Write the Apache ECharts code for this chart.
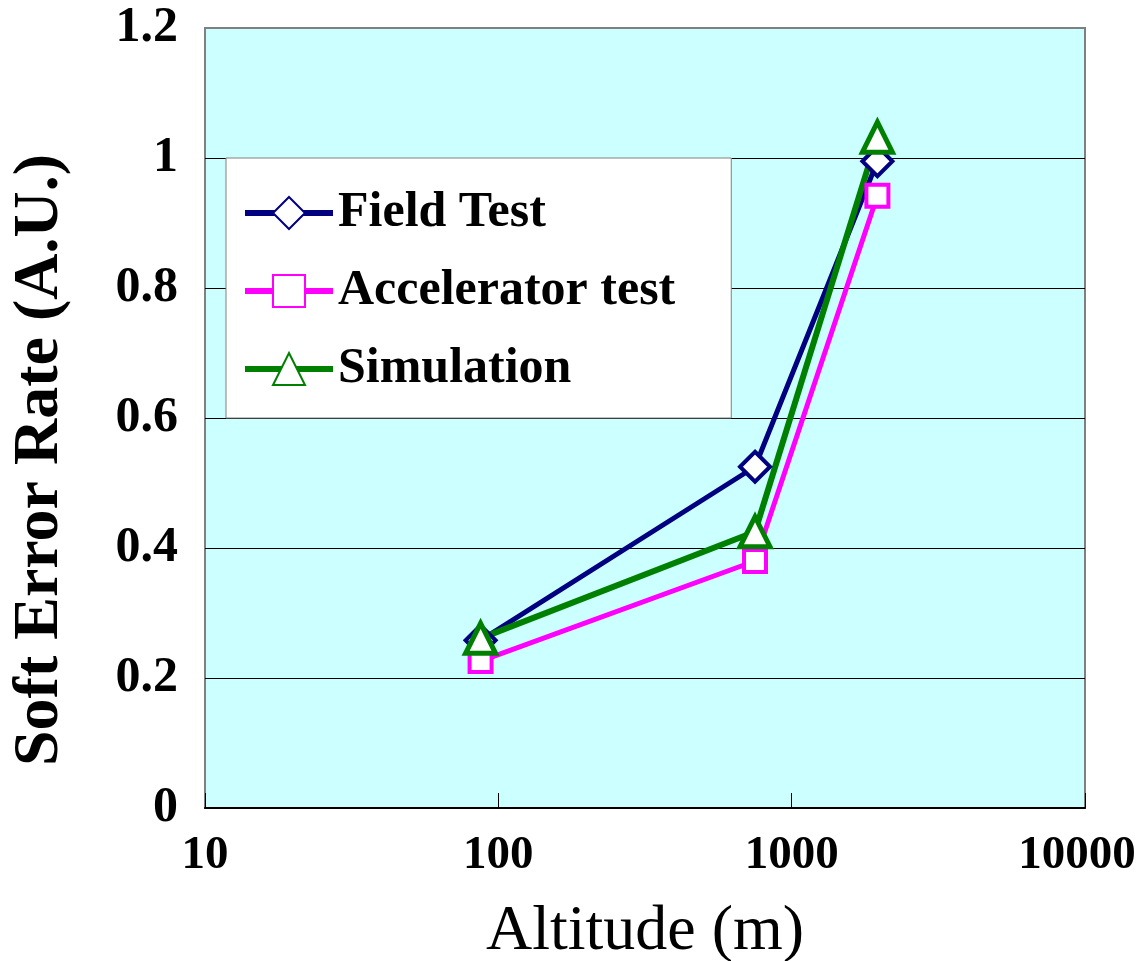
<!DOCTYPE html>
<html>
<head>
<meta charset="utf-8">
<title>Soft Error Rate vs Altitude</title>
<script src="https://cdn.jsdelivr.net/npm/echarts@6/dist/echarts.min.js"></script>
<style>
  html, body { margin: 0; padding: 0; background: #fff; }
  #chart { width: 1143px; height: 961px; }
</style>
</head>
<body>
<div id="chart"></div>
<script>
// altitude of the test sites (m)
const altitudes = [87, 750, 1960];
// soft error rate, arbitrary units
const fieldTest = [0.258, 0.525, 0.995];
const acceleratorTest = [0.226, 0.380, 0.942];
const simulation = [0.261, 0.425, 1.032];

const seriesNames = ['Field Test', 'Accelerator test', 'Simulation'];

const serif = "'Liberation Serif', 'Times New Roman', serif";

function pairs(ys) {
    return altitudes.map(function (x, i) { return [x, ys[i]]; });
}

const chart = echarts.init(document.getElementById('chart'));

const option = {
    backgroundColor: '#fff',
    animation: false,
    grid: {
        left: 205,
        right: 58,
        top: 28,
        bottom: 153,
        containLabel: false,
        outerBoundsMode: 'none',
        show: true,
        backgroundColor: '#CCFFFF',
        borderColor: '#808080',
        borderWidth: 2
    },
    legend: {
        orient: 'vertical',
        left: 226,
        top: 158,
        padding: [30, 56, 24, 16],
        itemGap: 28,
        itemWidth: 88,
        itemHeight: 40,
        backgroundColor: '#fff',
        borderColor: '#808080',
        borderWidth: 1,
        lineStyle: { width: 6 },
        textStyle: {
            fontFamily: serif,
            fontWeight: 'bold',
            fontSize: 50,
            lineHeight: 48,
            color: '#000'
        },
        data: seriesNames
    },
    xAxis: {
        type: 'log',
        logBase: 10,
        min: 10,
        max: 10000,
        name: 'Altitude (m)',
        nameLocation: 'middle',
        nameGap: 92,
        nameTextStyle: {
            fontFamily: serif,
            fontSize: 64,
            color: '#000'
        },
        axisLine: { show: true, lineStyle: { color: '#000', width: 2 } },
        axisTick: { show: true, inside: true, length: 15, lineStyle: { color: '#000', width: 1 } },
        splitLine: { show: false },
        axisLabel: {
            fontFamily: serif,
            fontWeight: 'bold',
            fontSize: 47,
            color: '#000',
            margin: 24,
            formatter: function (v) {
                const s = String(Math.round(v));
                // last label sits a little left of its tick, as in the original
                return v >= 10000 ? '{r|' + s + '}' : s;
            },
            rich: {
                r: {
                    fontFamily: serif,
                    fontWeight: 'bold',
                    fontSize: 47,
                    color: '#000',
                    padding: [0, 16, 0, 0]
                }
            }
        }
    },
    yAxis: {
        type: 'value',
        min: 0,
        max: 1.2,
        interval: 0.2,
        name: 'Soft Error Rate (A.U.)',
        nameLocation: 'middle',
        nameGap: 133,
        nameTextStyle: {
            fontFamily: serif,
            fontWeight: 'bold',
            fontSize: 64,
            color: '#000',
            padding: [0, 84, 0, 0]
        },
        axisLine: { show: false },
        axisTick: { show: false },
        splitLine: {
            show: true,
            showMinLine: false,
            showMaxLine: false,
            lineStyle: { color: '#000', width: 1 }
        },
        axisLabel: {
            fontFamily: serif,
            fontWeight: 'bold',
            fontSize: 50,
            color: '#000',
            margin: 27
        }
    },
    series: [
        {
            name: seriesNames[0],
            type: 'line',
            data: pairs(fieldTest),
            symbol: 'diamond',
            symbolSize: 30,
            lineStyle: { color: '#000080', width: 5 },
            itemStyle: { color: '#fff', borderColor: '#000080', borderWidth: 4 }
        },
        {
            name: seriesNames[1],
            type: 'line',
            data: pairs(acceleratorTest),
            symbol: 'rect',
            symbolSize: 22,
            lineStyle: { color: '#FF00FF', width: 5 },
            itemStyle: { color: '#fff', borderColor: '#FF00FF', borderWidth: 4 }
        },
        {
            name: seriesNames[2],
            type: 'line',
            data: pairs(simulation),
            symbol: 'triangle',
            symbolSize: 30,
            lineStyle: { color: '#008000', width: 6 },
            itemStyle: { color: '#fff', borderColor: '#008000', borderWidth: 5 }
        }
    ]
};

chart.setOption(option);
</script>
</body>
</html>
